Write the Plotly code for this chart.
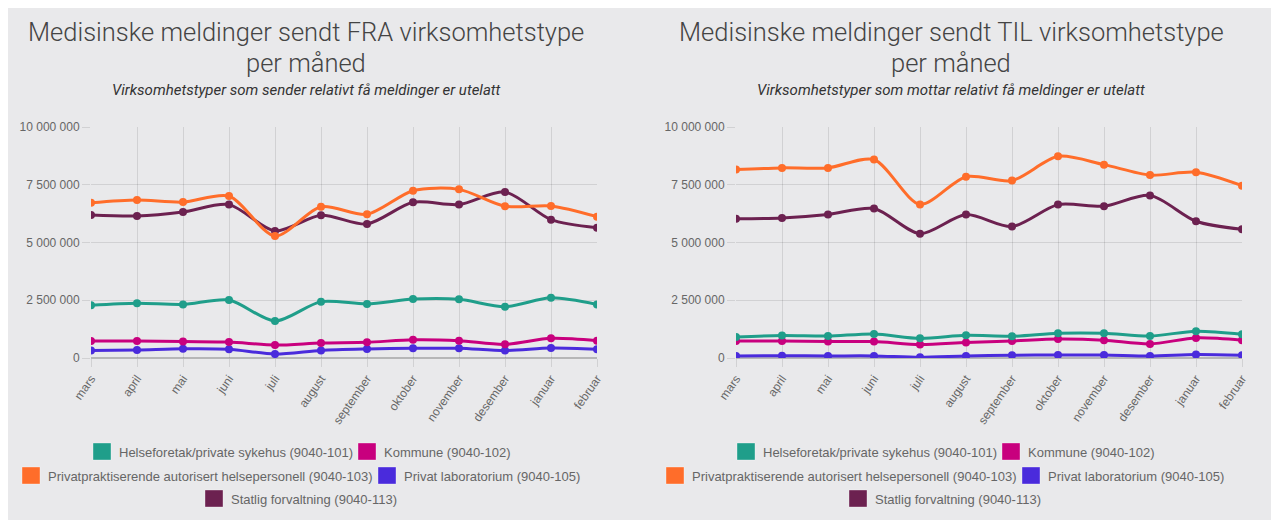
import plotly.graph_objects as go

# ---------------- data ----------------
months = ["mars", "april", "mai", "juni", "juli", "august", "september",
          "oktober", "november", "desember", "januar", "februar"]

series_names = [
    "Helseforetak/private sykehus (9040-101)",
    "Kommune (9040-102)",
    "Privatpraktiserende autorisert helsepersonell (9040-103)",
    "Privat laboratorium (9040-105)",
    "Statlig forvaltning (9040-113)",
]
series_colors = ["#1f9e8a", "#c8007e", "#ff6d2a", "#4a2bdc", "#6c2150"]

# Sent FROM (left chart)
fra_helseforetak = [2280000, 2370000, 2320000, 2510000, 1600000, 2440000,
                    2340000, 2550000, 2540000, 2220000, 2610000, 2320000]
fra_kommune = [740000, 740000, 710000, 690000, 560000, 650000,
               680000, 790000, 750000, 590000, 850000, 750000]
fra_privatpraktiserende = [6720000, 6840000, 6750000, 7010000, 5280000, 6550000,
                           6220000, 7240000, 7300000, 6570000, 6580000, 6120000]
fra_laboratorium = [330000, 350000, 400000, 380000, 170000, 330000,
                    390000, 420000, 420000, 320000, 430000, 380000]
fra_statlig = [6190000, 6150000, 6320000, 6640000, 5500000, 6180000,
               5800000, 6740000, 6640000, 7190000, 5990000, 5640000]

# Sent TO (right chart)
til_helseforetak = [910000, 970000, 950000, 1040000, 850000, 980000,
                    940000, 1070000, 1070000, 950000, 1160000, 1030000]
til_kommune = [740000, 740000, 710000, 710000, 580000, 670000,
               740000, 820000, 770000, 610000, 870000, 770000]
til_privatpraktiserende = [8160000, 8230000, 8230000, 8590000, 6650000, 7850000,
                           7680000, 8730000, 8370000, 7920000, 8040000, 7460000]
til_laboratorium = [90000, 100000, 90000, 90000, 30000, 90000,
                    120000, 130000, 130000, 90000, 150000, 120000]
til_statlig = [6030000, 6060000, 6210000, 6470000, 5380000, 6210000,
               5690000, 6640000, 6570000, 7040000, 5920000, 5570000]

titles = ["Medisinske meldinger sendt FRA virksomhetstype",
          "Medisinske meldinger sendt TIL virksomhetstype"]
title_line2 = "per måned"
subtitles = ["Virksomhetstyper som sender relativt få meldinger er utelatt",
             "Virksomhetstyper som mottar relativt få meldinger er utelatt"]
y_ticks = [0, 2500000, 5000000, 7500000, 10000000]

fra_data = [fra_helseforetak, fra_kommune, fra_privatpraktiserende,
            fra_laboratorium, fra_statlig]
til_data = [til_helseforetak, til_kommune, til_privatpraktiserende,
            til_laboratorium, til_statlig]

# ---------------- layout helpers ----------------
# the page body has an 8px margin; the figure starts at (8, 8) of the window
OFF = 8
W, H = 1279 - OFF, 520 - OFF


def px(x):
    return (x - OFF) / W


def py(y):
    return 1 - (y - OFF) / H


fig = go.Figure()

for panel, data in enumerate([fra_data, til_data]):
    xa = "x" if panel == 0 else "x2"
    ya = "y" if panel == 0 else "y2"
    for i in reversed(range(len(series_names))):
        fig.add_trace(go.Scatter(
            x=months, y=data[i], name=series_names[i],
            mode="lines+markers",
            line=dict(color=series_colors[i], width=3, shape="spline", smoothing=0.8),
            marker=dict(color=series_colors[i], size=8),
            xaxis=xa, yaxis=ya, showlegend=False,
        ))

grid = "rgba(0,0,0,0.10)"
tickfont = dict(family="Liberation Sans, Arial", size=12, color="#666666")

xcommon = dict(
    type="category", range=[0, len(months) - 1], showgrid=True, gridcolor=grid,
    ticks="outside", ticklen=8, tickcolor=grid, tickangle=-55,
    tickfont=tickfont, showline=False, zeroline=False, fixedrange=True,
    automargin=False,
)
ycommon = dict(
    range=[0, 10000000], tickvals=y_ticks, tickformat=",d", showgrid=True,
    gridcolor=grid, ticks="outside", ticklen=8, tickcolor=grid,
    tickfont=tickfont, zeroline=True, zerolinecolor="rgba(0,0,0,0.22)",
    zerolinewidth=1.5, showline=False, fixedrange=True, automargin=False,
    domain=[py(358), py(127)],
)

fig.update_layout(
    width=W, height=H,
    margin=dict(l=0, r=0, t=0, b=0, pad=0, autoexpand=False),
    paper_bgcolor="#e9e9eb",
    plot_bgcolor="rgba(0,0,0,0)",
    separators=". ",
    xaxis=dict(xcommon, domain=[px(91), px(597)], anchor="y"),
    xaxis2=dict(xcommon, domain=[px(736), px(1242)], anchor="y2"),
    yaxis=dict(ycommon, anchor="x"),
    yaxis2=dict(ycommon, anchor="x2"),
    hovermode=False,
)

shapes = [
    dict(type="rect", xref="paper", yref="paper", x0=px(1272), x1=1,
         y0=0, y1=1, fillcolor="#c4c4c6", line=dict(width=0), layer="below"),
    dict(type="rect", xref="paper", yref="paper", x0=px(1272), x1=px(1274),
         y0=0, y1=1, fillcolor="#a9a9ab", line=dict(width=0), layer="below"),
]

annotations = []
title_centers = [306, 951]
for panel in range(2):
    cx = title_centers[panel]
    annotations.append(dict(
        text=titles[panel], x=px(cx), y=py(32), xref="paper", yref="paper",
        xanchor="center", yanchor="middle", showarrow=False,
        font=dict(family="Roboto", size=25.5, weight=300, color="#444444")))
    annotations.append(dict(
        text=title_line2, x=px(cx), y=py(63), xref="paper", yref="paper",
        xanchor="center", yanchor="middle", showarrow=False,
        font=dict(family="Roboto", size=25.5, weight=300, color="#444444")))
    annotations.append(dict(
        text="<i>" + subtitles[panel] + "</i>", x=px(cx), y=py(90),
        xref="paper", yref="paper", xanchor="center", yanchor="middle",
        showarrow=False,
        font=dict(family="Roboto", size=15, color="#333333")))

# manual Chart.js-style legend: rows of (series index, swatch left x)
legend_rows = [
    (452, [(0, 93), (1, 358)]),
    (476, [(2, 22), (3, 378)]),
    (499, [(4, 205)]),
]
for offset in (0, 644):
    for ycen, items in legend_rows:
        for idx, x0 in items:
            sx0 = x0 + offset
            shapes.append(dict(
                type="rect", xref="paper", yref="paper",
                x0=px(sx0), x1=px(sx0 + 18), y0=py(ycen + 8), y1=py(ycen - 9),
                fillcolor=series_colors[idx],
                line=dict(color="rgba(255,255,255,0.35)", width=1)))
            annotations.append(dict(
                text=series_names[idx], x=px(sx0 + 24), y=py(ycen),
                xref="paper", yref="paper", xanchor="left", yanchor="middle",
                showarrow=False,
                font=dict(family="Liberation Sans, Arial", size=13, color="#666666")))

fig.update_layout(shapes=shapes, annotations=annotations)

fig.write_html("out.html")
